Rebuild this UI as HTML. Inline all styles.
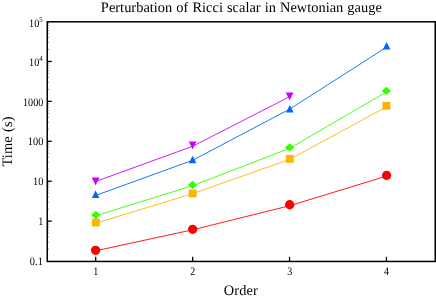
<!DOCTYPE html>
<html><head><meta charset="utf-8"><title>Perturbation of Ricci scalar in Newtonian gauge</title>
<style>
html,body{margin:0;padding:0;background:#fff;}
body{width:436px;height:299px;overflow:hidden;}
svg{display:block;opacity:0.999;will-change:transform;}
text{font-family:"Liberation Serif",serif;fill:#000;text-rendering:geometricPrecision;}
</style></head><body>
<svg width="436" height="299" viewBox="0 0 436 299">
<rect width="436" height="299" fill="#fff"/>
<polyline points="95.6,181.5 192.6,146.3 289.6,96.7" fill="none" stroke="#cc00ff" stroke-width="0.9"/>
<polygon points="91.70,177.60 99.50,177.60 95.6,185.30" fill="#cc00ff"/>
<polygon points="188.70,141.50 196.50,141.50 192.6,149.20" fill="#cc00ff"/>
<polygon points="285.70,92.50 293.50,92.50 289.6,100.20" fill="#cc00ff"/>
<polyline points="95.6,195.5 192.6,160.3 289.6,109.2 386.5,47.2" fill="none" stroke="#0066ff" stroke-width="0.9"/>
<polygon points="91.80,198.00 99.40,198.00 95.6,190.40" fill="#0066ff"/>
<polygon points="188.80,163.30 196.40,163.30 192.6,155.70" fill="#0066ff"/>
<polygon points="286.05,112.50 293.65,112.50 289.85,104.90" fill="#0066ff"/>
<polygon points="382.80,49.60 390.40,49.60 386.6,42.00" fill="#0066ff"/>
<polyline points="95.6,215.8 192.6,185.65 289.6,148.4 386.5,91.9" fill="none" stroke="#33ff00" stroke-width="0.9"/>
<polygon points="91.15,215.0 95.85,210.80 100.55,215.0 95.85,219.20" fill="#33ff00"/>
<polygon points="187.90,184.9 192.6,180.70 197.30,184.9 192.6,189.10" fill="#33ff00"/>
<polygon points="285.00,147.4 289.7,143.20 294.40,147.4 289.7,151.60" fill="#33ff00"/>
<polygon points="381.70,90.9 386.4,86.70 391.10,90.9 386.4,95.10" fill="#33ff00"/>
<polyline points="95.6,223.3 192.6,193.7 289.6,159.4 386.5,106.9" fill="none" stroke="#ffb400" stroke-width="0.9"/>
<rect x="91.90" y="218.55" width="7.9" height="7.9" fill="#ffb400"/>
<rect x="188.75" y="189.45" width="7.9" height="7.9" fill="#ffb400"/>
<rect x="285.85" y="154.85" width="7.9" height="7.9" fill="#ffb400"/>
<rect x="382.45" y="101.85" width="7.9" height="7.9" fill="#ffb400"/>
<polyline points="95.6,250.8 192.6,229.8 289.6,205.75 386.5,176.1" fill="none" stroke="#ff0000" stroke-width="0.9"/>
<circle cx="95.6" cy="250.3" r="4.65" fill="#ff0000"/>
<circle cx="192.65" cy="229.3" r="4.65" fill="#ff0000"/>
<circle cx="289.7" cy="204.75" r="4.65" fill="#ff0000"/>
<circle cx="386.6" cy="175.45" r="4.65" fill="#ff0000"/>
<rect x="47.25" y="21.8" width="388.00" height="239.65" fill="none" stroke="#000" stroke-width="1.5"/>
<line x1="47.25" y1="249.03" x2="49.05" y2="249.03" stroke="#000" stroke-width="0.4"/>
<line x1="47.25" y1="242.00" x2="49.05" y2="242.00" stroke="#000" stroke-width="0.4"/>
<line x1="47.25" y1="237.02" x2="49.05" y2="237.02" stroke="#000" stroke-width="0.4"/>
<line x1="47.25" y1="233.15" x2="49.05" y2="233.15" stroke="#000" stroke-width="0.4"/>
<line x1="47.25" y1="229.99" x2="49.05" y2="229.99" stroke="#000" stroke-width="0.4"/>
<line x1="47.25" y1="227.32" x2="49.05" y2="227.32" stroke="#000" stroke-width="0.4"/>
<line x1="47.25" y1="225.00" x2="49.05" y2="225.00" stroke="#000" stroke-width="0.4"/>
<line x1="47.25" y1="222.96" x2="49.05" y2="222.96" stroke="#000" stroke-width="0.4"/>
<line x1="47.25" y1="221.13" x2="51.75" y2="221.13" stroke="#000" stroke-width="1.3"/>
<line x1="47.25" y1="209.12" x2="49.05" y2="209.12" stroke="#000" stroke-width="0.4"/>
<line x1="47.25" y1="202.09" x2="49.05" y2="202.09" stroke="#000" stroke-width="0.4"/>
<line x1="47.25" y1="197.10" x2="49.05" y2="197.10" stroke="#000" stroke-width="0.4"/>
<line x1="47.25" y1="193.23" x2="49.05" y2="193.23" stroke="#000" stroke-width="0.4"/>
<line x1="47.25" y1="190.07" x2="49.05" y2="190.07" stroke="#000" stroke-width="0.4"/>
<line x1="47.25" y1="187.40" x2="49.05" y2="187.40" stroke="#000" stroke-width="0.4"/>
<line x1="47.25" y1="185.08" x2="49.05" y2="185.08" stroke="#000" stroke-width="0.4"/>
<line x1="47.25" y1="183.04" x2="49.05" y2="183.04" stroke="#000" stroke-width="0.4"/>
<line x1="47.25" y1="181.22" x2="51.75" y2="181.22" stroke="#000" stroke-width="1.3"/>
<line x1="47.25" y1="169.20" x2="49.05" y2="169.20" stroke="#000" stroke-width="0.4"/>
<line x1="47.25" y1="162.17" x2="49.05" y2="162.17" stroke="#000" stroke-width="0.4"/>
<line x1="47.25" y1="157.18" x2="49.05" y2="157.18" stroke="#000" stroke-width="0.4"/>
<line x1="47.25" y1="153.32" x2="49.05" y2="153.32" stroke="#000" stroke-width="0.4"/>
<line x1="47.25" y1="150.16" x2="49.05" y2="150.16" stroke="#000" stroke-width="0.4"/>
<line x1="47.25" y1="147.48" x2="49.05" y2="147.48" stroke="#000" stroke-width="0.4"/>
<line x1="47.25" y1="145.17" x2="49.05" y2="145.17" stroke="#000" stroke-width="0.4"/>
<line x1="47.25" y1="143.13" x2="49.05" y2="143.13" stroke="#000" stroke-width="0.4"/>
<line x1="47.25" y1="141.30" x2="51.75" y2="141.30" stroke="#000" stroke-width="1.3"/>
<line x1="47.25" y1="129.28" x2="49.05" y2="129.28" stroke="#000" stroke-width="0.4"/>
<line x1="47.25" y1="122.25" x2="49.05" y2="122.25" stroke="#000" stroke-width="0.4"/>
<line x1="47.25" y1="117.27" x2="49.05" y2="117.27" stroke="#000" stroke-width="0.4"/>
<line x1="47.25" y1="113.40" x2="49.05" y2="113.40" stroke="#000" stroke-width="0.4"/>
<line x1="47.25" y1="110.24" x2="49.05" y2="110.24" stroke="#000" stroke-width="0.4"/>
<line x1="47.25" y1="107.57" x2="49.05" y2="107.57" stroke="#000" stroke-width="0.4"/>
<line x1="47.25" y1="105.25" x2="49.05" y2="105.25" stroke="#000" stroke-width="0.4"/>
<line x1="47.25" y1="103.21" x2="49.05" y2="103.21" stroke="#000" stroke-width="0.4"/>
<line x1="47.25" y1="101.38" x2="51.75" y2="101.38" stroke="#000" stroke-width="1.3"/>
<line x1="47.25" y1="89.37" x2="49.05" y2="89.37" stroke="#000" stroke-width="0.4"/>
<line x1="47.25" y1="82.34" x2="49.05" y2="82.34" stroke="#000" stroke-width="0.4"/>
<line x1="47.25" y1="77.35" x2="49.05" y2="77.35" stroke="#000" stroke-width="0.4"/>
<line x1="47.25" y1="73.48" x2="49.05" y2="73.48" stroke="#000" stroke-width="0.4"/>
<line x1="47.25" y1="70.32" x2="49.05" y2="70.32" stroke="#000" stroke-width="0.4"/>
<line x1="47.25" y1="67.65" x2="49.05" y2="67.65" stroke="#000" stroke-width="0.4"/>
<line x1="47.25" y1="65.33" x2="49.05" y2="65.33" stroke="#000" stroke-width="0.4"/>
<line x1="47.25" y1="63.29" x2="49.05" y2="63.29" stroke="#000" stroke-width="0.4"/>
<line x1="47.25" y1="61.47" x2="51.75" y2="61.47" stroke="#000" stroke-width="1.3"/>
<line x1="47.25" y1="49.45" x2="49.05" y2="49.45" stroke="#000" stroke-width="0.4"/>
<line x1="47.25" y1="42.42" x2="49.05" y2="42.42" stroke="#000" stroke-width="0.4"/>
<line x1="47.25" y1="37.43" x2="49.05" y2="37.43" stroke="#000" stroke-width="0.4"/>
<line x1="47.25" y1="33.57" x2="49.05" y2="33.57" stroke="#000" stroke-width="0.4"/>
<line x1="47.25" y1="30.41" x2="49.05" y2="30.41" stroke="#000" stroke-width="0.4"/>
<line x1="47.25" y1="27.73" x2="49.05" y2="27.73" stroke="#000" stroke-width="0.4"/>
<line x1="47.25" y1="25.42" x2="49.05" y2="25.42" stroke="#000" stroke-width="0.4"/>
<line x1="47.25" y1="23.38" x2="49.05" y2="23.38" stroke="#000" stroke-width="0.4"/>
<line x1="95.71" y1="261.3" x2="95.71" y2="256.80" stroke="#000" stroke-width="1.3"/>
<text transform="translate(95.86,275.00) scale(0.975,1.1)" font-size="10.4" text-anchor="middle" >1</text>
<line x1="192.62" y1="261.3" x2="192.62" y2="256.80" stroke="#000" stroke-width="1.3"/>
<text transform="translate(192.77,275.00) scale(0.975,1.1)" font-size="10.4" text-anchor="middle" >2</text>
<line x1="289.53" y1="261.3" x2="289.53" y2="256.80" stroke="#000" stroke-width="1.3"/>
<text transform="translate(289.68,275.00) scale(0.975,1.1)" font-size="10.4" text-anchor="middle" >3</text>
<line x1="386.44" y1="261.3" x2="386.44" y2="256.80" stroke="#000" stroke-width="1.3"/>
<text transform="translate(386.59,275.00) scale(0.975,1.1)" font-size="10.4" text-anchor="middle" >4</text>
<text transform="translate(42.85,264.97) scale(1.0,1.1)" font-size="10.4" text-anchor="end" >0.1</text>
<text transform="translate(43.20,225.18) scale(0.975,1.1)" font-size="10.4" text-anchor="end" >1</text>
<text transform="translate(43.50,185.02) scale(1.0,1.1)" font-size="10.4" text-anchor="end" >10</text>
<text transform="translate(43.40,145.15) scale(1.0,1.1)" font-size="10.4" text-anchor="end" >100</text>
<text transform="translate(43.30,105.73) scale(0.975,1.1)" font-size="10.4" text-anchor="end" >1000</text>
<text transform="translate(39.20,66.32) scale(0.975,1.1)" font-size="10.4" text-anchor="end" >10</text>
<text transform="translate(39.15,61.02) scale(1.0,1.1)" font-size="6.9" text-anchor="start" >4</text>
<text transform="translate(39.20,26.90) scale(0.975,1.1)" font-size="10.4" text-anchor="end" >10</text>
<text transform="translate(39.15,21.60) scale(1.0,1.1)" font-size="6.9" text-anchor="start" >5</text>
<text transform="translate(241.35,12.00)" font-size="14.4" text-anchor="middle" word-spacing="0.42" letter-spacing="0.024">Perturbation of Ricci scalar in Newtonian gauge</text>
<text transform="translate(240.90,295.30)" font-size="14.4" text-anchor="middle" letter-spacing="0.12">Order</text>
<text transform="translate(11.80,141.50) rotate(-90)" font-size="14.4" text-anchor="middle" word-spacing="0.8" letter-spacing="0.08">Time (s)</text>
</svg></body></html>
